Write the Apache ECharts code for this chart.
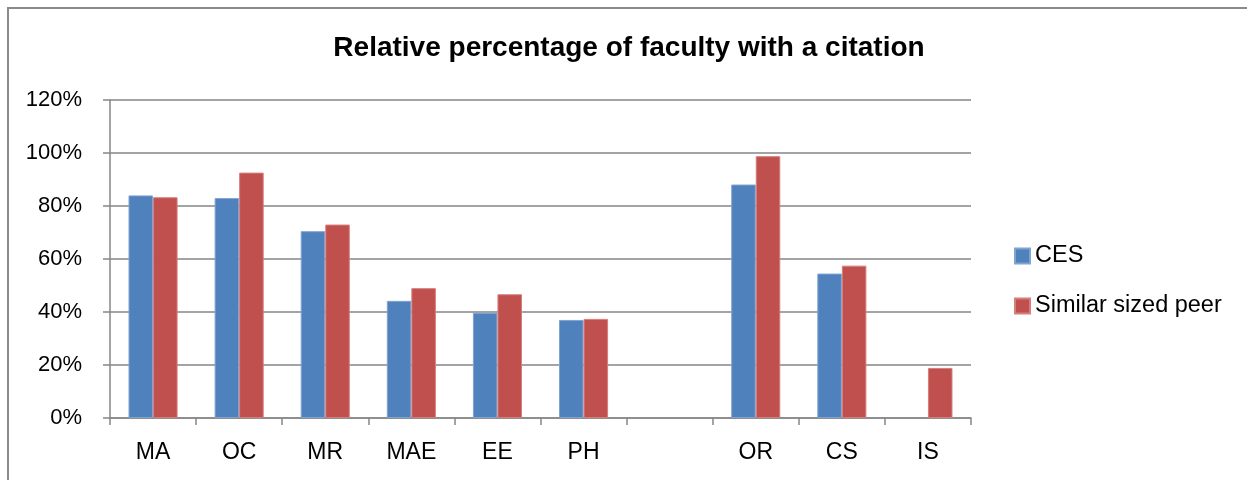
<!DOCTYPE html>
<html>
<head>
<meta charset="utf-8">
<script src="https://cdn.jsdelivr.net/npm/echarts@6/dist/echarts.min.js"></script>
<style>
html,body{margin:0;padding:0;background:#fff;}
#chart{width:1247px;height:480px;}
</style>
</head>
<body>
<div id="chart"></div>
<script>
var categories = ['MA', 'OC', 'MR', 'MAE', 'EE', 'PH', '', 'OR', 'CS', 'IS'];
var cesValues = [84.0, 83.0, 70.5, 44.2, 39.7, 37.0, null, 88.1, 54.5, null];
var peerValues = [83.3, 92.6, 73.0, 49.0, 46.7, 37.4, null, 98.8, 57.5, 18.9];
var seriesNames = ['CES', 'Similar sized peer'];
var titleText = 'Relative percentage of faculty with a citation';

var chart = echarts.init(document.getElementById('chart'), null, {renderer: 'canvas'});
var fontFam = '"Liberation Sans", Arial, sans-serif';
var axisGray = '#868686';
chart.setOption({
  animation: false,
  backgroundColor: '#ffffff',
  graphic: [
    {type: 'polyline', shape: {points: [[8, 480], [8, 8], [1247, 8]]}, style: {stroke: '#8a8a8a', lineWidth: 2, fill: null}},
    {type: 'text', x: 629, y: 48, style: {text: titleText, font: 'bold 28px ' + fontFam, fill: '#000', textAlign: 'center', textVerticalAlign: 'middle'}}
  ],
  grid: {left: 110, top: 100, right: 276, bottom: 62, containLabel: false},
  legend: {
    orient: 'vertical',
    left: 1014,
    top: 244,
    padding: 0,
    itemWidth: 15,
    itemHeight: 15,
    itemGap: 26,
    icon: 'rect',
    textStyle: {fontSize: 23.5, fontFamily: fontFam, color: '#000'},
    data: seriesNames
  },
  xAxis: {
    type: 'category',
    data: categories,
    axisLine: {lineStyle: {color: axisGray, width: 1.5}},
    axisTick: {show: true, length: 7, lineStyle: {color: axisGray, width: 1.5}},
    axisLabel: {fontSize: 23, fontFamily: fontFam, color: '#000', margin: 23, interval: 0}
  },
  yAxis: {
    type: 'value',
    min: 0, max: 120, interval: 20,
    axisLine: {show: true, lineStyle: {color: axisGray, width: 1.5}},
    axisTick: {show: true, length: 7, lineStyle: {color: axisGray, width: 1.5}},
    splitLine: {show: true, lineStyle: {color: axisGray, width: 1.5}},
    axisLabel: {fontSize: 22, fontFamily: fontFam, color: '#000', margin: 28, formatter: '{value}%'}
  },
  series: [
    {name: seriesNames[0], type: 'bar', data: cesValues, barGap: '0%', barCategoryGap: '43%',
     itemStyle: {color: '#4F81BD', borderColor: '#7fa3d3', borderWidth: 1}},
    {name: seriesNames[1], type: 'bar', data: peerValues, barGap: '0%', barCategoryGap: '43%',
     itemStyle: {color: '#C0504D', borderColor: '#d67e7c', borderWidth: 1}}
  ]
});
</script>
</body>
</html>
